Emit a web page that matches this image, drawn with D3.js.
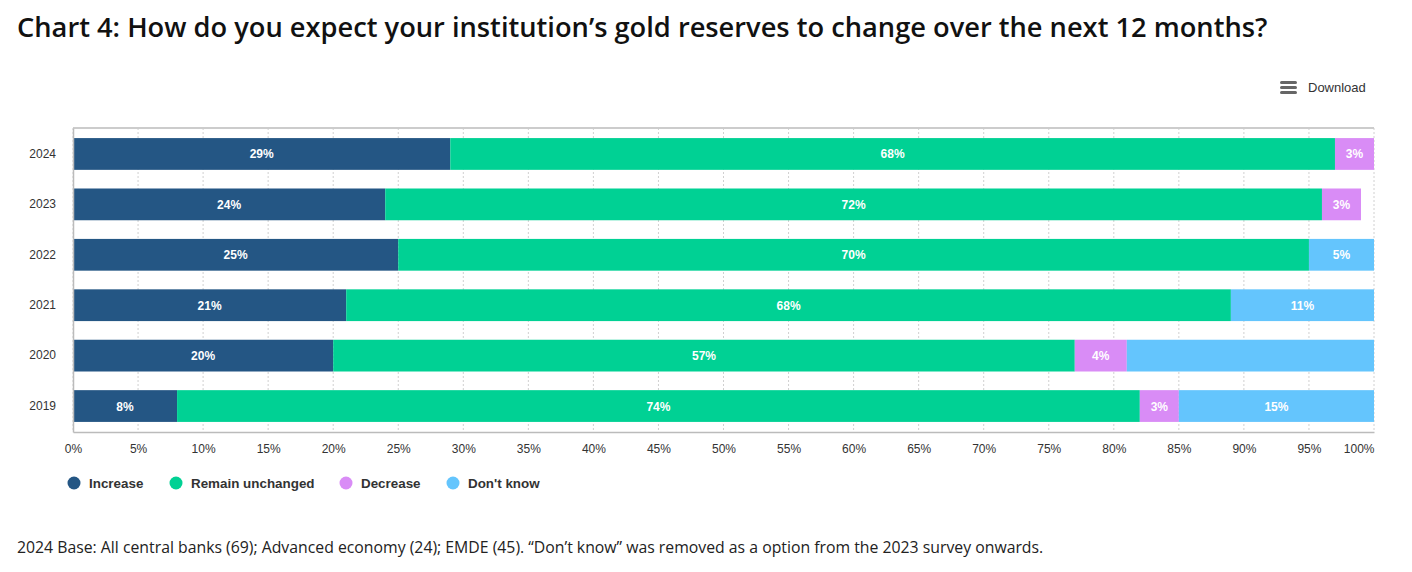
<!DOCTYPE html>
<html>
<head>
<meta charset="utf-8">
<script src="https://cdn.jsdelivr.net/npm/d3@7"></script>
<style>
	body { margin: 0; background: #fff; }
	text { font-family: Arial, "Liberation Sans", sans-serif; }
</style>
</head>
<body>
<div id="c-svg-04"></div>
<script>

//data
const years = ["2024", "2023", "2022", "2021", "2020", "2019"];
const series = ["Increase", "Remain unchanged", "Decrease", "Don't know"];
const increase = [29, 24, 25, 21, 20, 8];
const unchanged = [68, 72, 70, 68, 57, 74];
const decrease = [3, 3, 0, 0, 4, 3];
const dontKnow = [0, 0, 5, 11, 19, 15];
const xTicks = [0, 5, 10, 15, 20, 25, 30, 35, 40, 45, 50, 55, 60, 65, 70, 75, 80, 85, 90, 95, 100];
//labels not drawn in the original chart
const hiddenLabels = [["2020", "Don't know"]];

function graph4(){

	const width = 1412;
	const height = 572;
	const margin = {left: 73, right: 38, top: 128, bottom: 140};

	let svg = d3.select("#c-svg-04")
		.append("svg")
		.attr("width", width)
		.attr("height", height);

	//title
	svg.append("text")
		.attr("x", 17)
		.attr("y", 37)
		.style("font-family", "'Open Sans', 'Noto Sans', sans-serif")
		.style("font-weight", 600)
		.style("font-size", "27.25px")
		.attr("fill", "#111")
		.text("Chart 4: How do you expect your institution\u2019s gold reserves to change over the next 12 months?");

	//download button
	let dl = svg.append("g").attr("transform", "translate(1280,81)");
	[0, 5, 10].forEach((dy)=>{
		dl.append("rect")
			.attr("x", 0).attr("y", dy)
			.attr("width", 17).attr("height", 3)
			.attr("rx", 1.5)
			.attr("fill", "#666");
	});
	dl.append("text")
		.attr("x", 28)
		.attr("y", 11)
		.style("font-size", "13px")
		.attr("fill", "#333")
		.text("Download");

	let x = d3.scaleLinear()
		.domain([0, 100])
		.range([margin.left, width - margin.right]);

	let y = d3.scaleBand()
		.domain(years)
		.range([margin.top, height - margin.bottom])
		.paddingInner(0.37)
		.paddingOuter(0.2);

	let color = d3.scaleOrdinal()
		.domain(series)
		.range(["#245684", "#00d194", "#d98cf6", "#64c5fd"]);

	//grid
	svg.append("g")
		.selectAll("line")
		.data(xTicks)
		.enter().append("line")
		.attr("x1", (d)=>x(d))
		.attr("x2", (d)=>x(d))
		.attr("y1", margin.top)
		.attr("y2", height - margin.bottom)
		.attr("stroke", "#d0d0d0")
		.attr("stroke-dasharray", "2,2")
		.attr("stroke-width", 1);

	//frame lines
	svg.append("line")
		.attr("x1", margin.left).attr("x2", width - margin.right)
		.attr("y1", margin.top).attr("y2", margin.top)
		.attr("stroke", "#cccccc").attr("stroke-width", 2);

	//stack data
	let table = years.map((yr, i)=>({
		year: yr,
		"Increase": increase[i],
		"Remain unchanged": unchanged[i],
		"Decrease": decrease[i],
		"Don't know": dontKnow[i]
	}));

	let stacked = d3.stack().keys(series)(table);

	let layers = svg.append("g")
		.selectAll("g")
		.data(stacked)
		.enter().append("g")
		.attr("fill", (d)=>color(d.key));

	layers.selectAll("rect")
		.data((d)=>d.filter((p)=>p[1] > p[0]))
		.enter().append("rect")
		.attr("x", (d)=>x(d[0]))
		.attr("y", (d)=>y(d.data.year))
		.attr("width", (d)=>x(d[1]) - x(d[0]))
		.attr("height", y.bandwidth());

	function isHidden(year, key){
		return hiddenLabels.some((h)=>h[0] == year && h[1] == key);
	}

	//data labels
	stacked.forEach((layer)=>{
		svg.append("g")
			.selectAll("text")
			.data(layer.filter((p)=>p[1] > p[0] && !isHidden(p.data.year, layer.key)))
			.enter().append("text")
			.attr("x", (d)=>(x(d[0]) + x(d[1])) / 2)
			.attr("y", (d)=>y(d.data.year) + y.bandwidth() / 2 + 4.5)
			.attr("text-anchor", "middle")
			.style("font-size", "12px")
			.style("font-weight", "bold")
			.attr("fill", "#fff")
			.text((d)=>(d[1] - d[0]) + "%");
	});

	//axes
	let xAxis = svg.append("g")
		.attr("transform", "translate(0," + (height - margin.bottom) + ")")
		.call(d3.axisBottom(x).tickValues(xTicks).tickSize(0).tickPadding(12).tickFormat((d)=>d + "%"));
	xAxis.select(".domain").attr("stroke", "#bbbbbb").attr("stroke-width", 1.5);
	xAxis.selectAll("text").style("font-size", "12px").attr("fill", "#333");
	//last label kept inside the chart
	xAxis.selectAll(".tick").filter((d)=>d == 100).select("text").attr("text-anchor", "end");

	let yAxis = svg.append("g")
		.attr("transform", "translate(" + margin.left + ",0)")
		.call(d3.axisLeft(y).tickSize(0).tickPadding(17));
	yAxis.select(".domain").attr("stroke", "#bbbbbb").attr("stroke-width", 1.5);
	yAxis.selectAll("text").style("font-size", "12px").attr("fill", "#333");

	//legend
	const legendX = [74, 176, 346, 453];
	let legend = svg.append("g")
		.selectAll("g")
		.data(series)
		.enter().append("g")
		.attr("transform", (d, i)=>"translate(" + legendX[i] + ",483)");

	legend.append("circle")
		.attr("r", 6.5)
		.attr("fill", (d)=>color(d));

	legend.append("text")
		.attr("x", 15)
		.attr("y", 5)
		.style("font-size", "13.4px")
		.style("font-weight", "bold")
		.attr("fill", "#333")
		.text((d)=>d);

	//footnote
	svg.append("text")
		.attr("x", 17)
		.attr("y", 553)
		.style("font-family", "'Open Sans', 'Noto Sans', sans-serif")
		.style("font-size", "15.8px")
		.attr("fill", "#222")
		.text("2024 Base: All central banks (69); Advanced economy (24); EMDE (45). \u201cDon\u2019t know\u201d was removed as a option from the 2023 survey onwards.");

} //function graph4

graph4();
</script>
</body>
</html>
